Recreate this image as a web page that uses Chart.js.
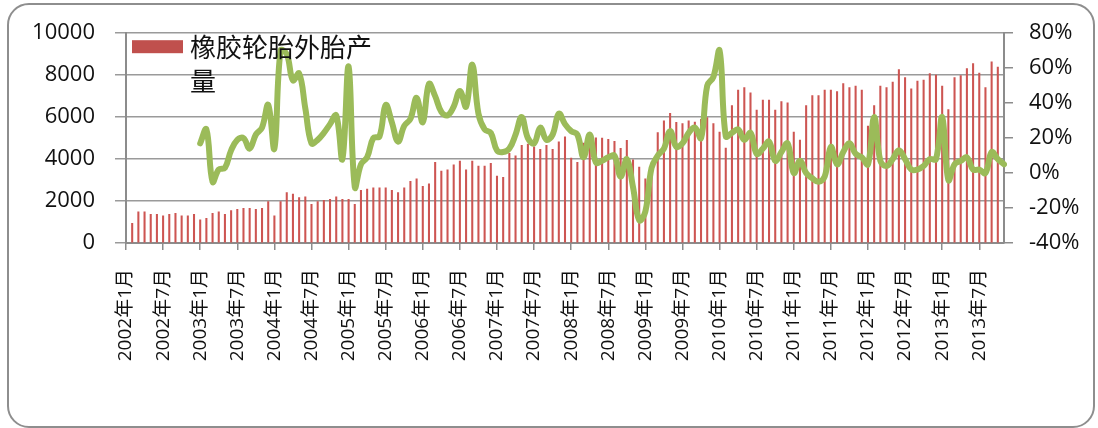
<!DOCTYPE html>
<html>
<head>
<meta charset="utf-8">
<script src="https://cdn.jsdelivr.net/npm/chart.js@4/dist/chart.umd.min.js"></script>
<style>
  html, body { margin: 0; padding: 0; background: #ffffff; }
  #wrap { position: relative; width: 1098px; height: 428px; }
  #frame { position: absolute; left: 7px; top: 3px; width: 1084px; height: 421px;
           border: 2px solid #8e8e8e; border-radius: 22px; pointer-events: none; }
</style>
</head>
<body>
<div id="wrap">
  <canvas id="c" width="1098" height="428"></canvas>
  <div id="frame"></div>
</div>
<script>
// ---- Data (2002-01 .. 2013-11, monthly) ----
const startYear = 2002;
const monthCount = 143;
const categories = [];
for (let i = 0; i < monthCount; i++) {
  const y = startYear + Math.floor(i / 12);
  const m = (i % 12) + 1;
  categories.push(y + '年' + m + '月');
}

// 橡胶轮胎外胎产量 (万条)
const tireOutput = [
  null, 940, 1480, 1480, 1370, 1370, 1300, 1370, 1410, 1300, 1300, 1370,      // 2002
  1110, 1175, 1410, 1490, 1365, 1540, 1600, 1650, 1650, 1600, 1650, 1970,     // 2003
  1300, 1970, 2400, 2330, 2160, 2200, 1840, 1970, 2030, 2080, 2200, 2080,     // 2004
  2080, 1840, 2510, 2570, 2635, 2635, 2635, 2510, 2400, 2635, 2935, 3063,     // 2005
  2698, 2825, 3841, 3429, 3492, 3730, 3905, 3492, 3905, 3667, 3667, 3794,     // 2006
  3190, 3127, 4270, 4159, 4651, 4714, 4587, 4460, 4651, 4460, 4825, 5063,     // 2007
  4050, 3850, 4760, 4970, 5010, 5000, 4940, 4850, 4510, 4890, 3960, 3620,     // 2008
  3063, 3810, 5260, 5825, 6175, 5750, 5698, 5825, 5762, 5900, 5984, 5698,     // 2009
  5286, 4524, 6556, 7286, 7413, 7159, 6333, 6810, 6810, 6333, 6746, 6683,     // 2010
  5286, 4905, 6556, 7032, 7032, 7286, 7286, 7222, 7603, 7413, 7476, 7286,     // 2011
  5571, 6556, 7476, 7413, 7667, 8270, 7889, 7349, 7714, 7762, 8079, 8000,     // 2012
  7476, 6365, 7889, 7980, 8317, 8556, 8100, 7413, 8635, 8390, null            // 2013
];

// 同比增速 (%)
const yoyGrowth = [
  null, null, null, null, null, null, null, null, null, null, null, null,     // 2002
  17, 25, -5, 2, 3, 13, 19, 20, 14, 22, 26, 39,                               // 2003
  14, 70, 68, 53, 57, 37, 17, 19, 23, 28, 33, 8,                              // 2004
  61, -8, 5, 9, 20, 21, 39, 29, 18, 27, 31, 43,                               // 2005
  29, 51, 44, 35, 33, 38, 47, 38, 62, 34, 25, 23,                             // 2006
  13, 12, 14, 22, 32, 20, 17, 26, 19, 22, 34, 28,                             // 2007
  24, 22, 9, 22, 6, 7, 9, 10, -2, 8, -8, -27,                                 // 2008
  -22, 3, 10, 14, 24, 15, 17, 23, 26, 20, 50, 55,                             // 2009
  70, 21, 23, 25, 19, 23, 11, 14, 18, 7, 12, 17,                              // 2010
  0, 7, 0, -3, -5, -2, 15, 5, 12, 17, 11, 9,                                  // 2011
  5, 32, 7, 4, 8, 13, 8, 2, 2, 4, 8, 8,                                       // 2012
  32, -4, 5, 7, 9, 2, 2, 0, 12, 8, 5                                          // 2013
];

const leftTicks = [0, 2000, 4000, 6000, 8000, 10000];
const rightTicks = [-40, -20, 0, 20, 40, 60, 80];
const seriesName = '橡胶轮胎外胎产量';
const lineName = '同比增长';

// ---- Styling ----
const FONT = "'Open Sans', 'Noto Sans CJK SC', sans-serif";
const GRID = '#9a9a9a';
const AXIS = '#8c8c8c';

const legendPlugin = {
  id: 'wrapLegend',
  afterDraw(chart) {
    const ctx = chart.ctx;
    const area = chart.chartArea;
    ctx.save();
    ctx.fillStyle = '#c0504d';
    ctx.fillRect(area.left + 6, area.top + 7, 51, 13);
    ctx.fillStyle = '#111';
    ctx.font = "26px 'Noto Sans CJK SC', sans-serif";
    ctx.textBaseline = 'middle';
    ctx.textAlign = 'left';
    const label = chart.data.datasets[1].label;
    ctx.fillText(label.slice(0, 7), area.left + 64, area.top + 14);
    ctx.fillText(label.slice(7), area.left + 64, area.top + 48);
    ctx.restore();
  }
};

new Chart(document.getElementById('c'), {
  type: 'bar',
  data: {
    labels: categories,
    datasets: [
      {
        type: 'line',
        label: lineName,
        data: yoyGrowth,
        yAxisID: 'y1',
        borderColor: '#9bbb59',
        backgroundColor: '#9bbb59',
        borderWidth: 6,
        pointRadius: 0,
        tension: 0.4,
        order: 0,
        borderCapStyle: 'round',
        borderJoinStyle: 'round'
      },
      {
        type: 'bar',
        label: seriesName,
        data: tireOutput,
        yAxisID: 'y',
        backgroundColor: '#cd5552',
        barThickness: 1.4,
        order: 1
      }
    ]
  },
  options: {
    responsive: false,
    animation: false,
    devicePixelRatio: 1,
    layout: { padding: { left: 0, right: 0, top: 33, bottom: 0 } },
    plugins: { legend: { display: false }, tooltip: { enabled: false } },
    scales: {
      x: {
        type: 'category',
        offset: false,
        grid: {
          offset: false,
          drawOnChartArea: false,
          drawTicks: true,
          tickLength: 7,
          color: (c) => (c.index % 6 === 0 ? AXIS : 'rgba(0,0,0,0)'),
          lineWidth: 1.5
        },
        border: { display: true, color: AXIS, width: 2 },
        ticks: {
          autoSkip: false,
          maxRotation: 90,
          minRotation: 90,
          padding: 19,
          color: '#111',
          font: { family: FONT, size: 19 },
          callback: function (v, i) { return i % 6 === 0 ? categories[i] : ''; }
        },
        afterFit: (s) => { s.height = 185; }
      },
      y: {
        position: 'left',
        min: 0,
        max: 10000,
        afterBuildTicks: (s) => { s.ticks = leftTicks.map(v => ({ value: v })); },
        grid: { color: GRID, lineWidth: 1.5, tickLength: 11 },
        border: { display: true, color: AXIS, width: 2 },
        ticks: {
          padding: 20,
          color: '#111',
          font: { family: FONT, size: 22 },
          callback: (v) => String(v)
        },
        afterFit: (s) => { s.width = 126; }
      },
      y1: {
        position: 'right',
        min: -40,
        max: 80,
        afterBuildTicks: (s) => { s.ticks = rightTicks.map(v => ({ value: v })); },
        grid: { drawOnChartArea: false, color: AXIS, lineWidth: 1.5, tickLength: 9 },
        border: { display: true, color: AXIS, width: 2 },
        ticks: {
          padding: 16,
          color: '#111',
          font: { family: FONT, size: 22 },
          callback: (v) => v + '%'
        },
        afterFit: (s) => { s.width = 94; }
      }
    }
  },
  plugins: [legendPlugin]
});
</script>
</body>
</html>
